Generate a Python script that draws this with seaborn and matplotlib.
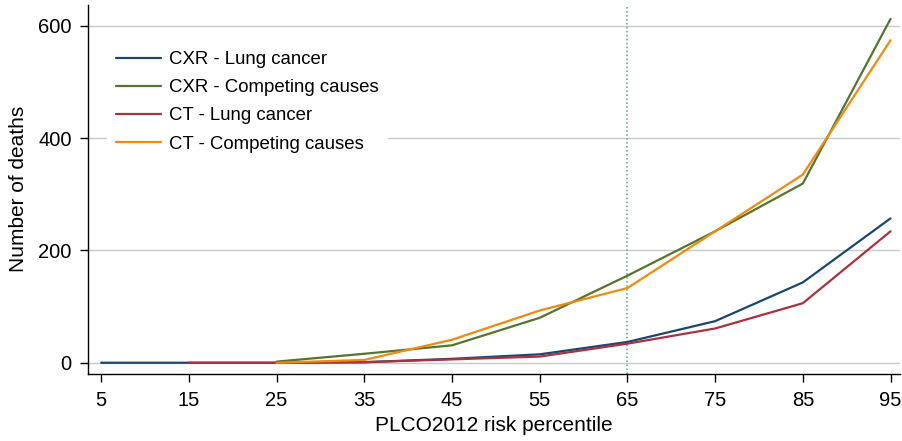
import numpy as np
import pandas as pd
import matplotlib
matplotlib.use("Agg")
import matplotlib.pyplot as plt
import seaborn as sns

percentiles = [5, 15, 25, 35, 45, 55, 65, 75, 85, 95]
cxr_lung = [0, 0, 0, 1, 7, 15, 37, 74, 143, 257]
cxr_competing = [np.nan, np.nan, 2, 16, 31, 80, 155, 234, 319, 612]
ct_lung = [np.nan, 0, 0, 1, 6, 11, 34, 61, 106, 234]
ct_competing = [np.nan, np.nan, 0, 5, 41, 93, 133, 234, 335, 574]

series_names = ["CXR - Lung cancer", "CXR - Competing causes",
                "CT - Lung cancer", "CT - Competing causes"]
series_values = [cxr_lung, cxr_competing, ct_lung, ct_competing]
colors = ["#1a476f", "#55752f", "#a8323e", "#f28a0c"]

df = pd.concat(
    [pd.DataFrame({"percentile": percentiles, "deaths": vals, "series": name})
     for name, vals in zip(series_names, series_values)],
    ignore_index=True,
)

sns.set_style("white")
plt.rcParams["font.family"] = ["Liberation Sans", "DejaVu Sans"]
plt.rcParams["text.color"] = "black"
plt.rcParams["axes.labelcolor"] = "black"

fig = plt.figure(figsize=(9.02, 4.41), dpi=100)
ax = fig.add_axes([0.0976, 0.1526, 0.9004, 0.8364])

for gy in [0, 200, 400, 600]:
    ax.axhline(gy, color="#c8c8c8", lw=1.0, zorder=0)

sns.lineplot(data=df, x="percentile", y="deaths", hue="series",
             hue_order=series_names, palette=colors, lw=1.6, ax=ax,
             legend=False, zorder=3)

ax.axvline(65, color="#3cb371", lw=1.1, ls=(0, (1, 1.6)), zorder=2)

ax.set_xlim(3.5, 96.1)
ax.set_ylim(-19.5, 637)
ax.set_xticks(percentiles)
ax.set_yticks([0, 200, 400, 600])
ax.tick_params(axis="both", labelsize=14.5, direction="out", length=5.8,
               width=1, colors="black", labelcolor="black",
               left=True, bottom=True)
ax.tick_params(axis="x", pad=7)
ax.tick_params(axis="y", pad=6)
ax.set_xlabel("PLCO2012 risk percentile", fontsize=15, labelpad=4,
              color="black")
ax.set_ylabel("Number of deaths", fontsize=15, labelpad=7, color="black")

for side in ["top", "right"]:
    ax.spines[side].set_visible(False)
for side in ["left", "bottom"]:
    ax.spines[side].set_color("black")
    ax.spines[side].set_linewidth(1.0)

handles = [plt.Line2D([], [], color=c, lw=1.6) for c in colors]
leg = ax.legend(handles, series_names, loc="upper left",
                bbox_to_anchor=(0.023, 0.90), fontsize=13.4, frameon=True,
                facecolor="white", edgecolor="none", framealpha=1,
                handlelength=2.4, handletextpad=0.45, labelspacing=0.6,
                borderpad=0.5, borderaxespad=0, labelcolor="black")
leg.set_zorder(5)

fig.savefig("out.png", dpi=100)
